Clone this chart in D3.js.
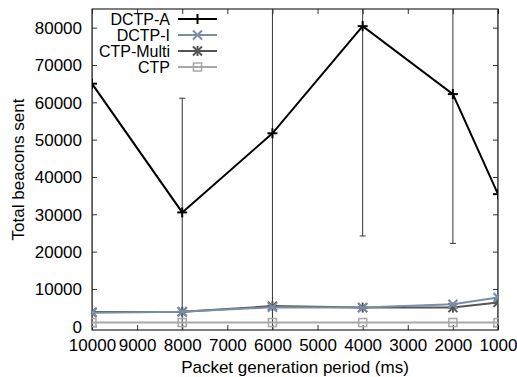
<!DOCTYPE html>
<html>
<head>
<meta charset="utf-8">
<script src="https://cdn.jsdelivr.net/npm/d3@7"></script>
<style>
  html, body { margin: 0; padding: 0; background: #fff; }
  svg text { font-family: "Liberation Sans", Arial, Helvetica, sans-serif; fill: #000; }
</style>
</head>
<body>
<svg id="chart" width="517" height="377"></svg>
<script>
// ---- data ----
const periods = [10000, 8000, 6000, 4000, 2000, 1000];
const dctpA = [65000, 30500, 51700, 80400, 62200, 35400];
const dctpALow = [-20000, -2000, -10000, 24200, 22200, -10000];
const dctpAHigh = [150000, 61100, 110000, 136600, 102200, 100000];
const dctpI = [3600, 3900, 5100, 5000, 5900, 7700];
const ctpMulti = [3800, 3900, 5400, 5000, 5000, 6400];
const ctp = [1000, 1000, 1000, 1000, 1000, 1000];
const xTicks = [10000, 9000, 8000, 7000, 6000, 5000, 4000, 3000, 2000, 1000];
const yTicks = [0, 10000, 20000, 30000, 40000, 50000, 60000, 70000, 80000];
const seriesNames = ["DCTP-A", "DCTP-I", "CTP-Multi", "CTP"];

// ---- layout ----
const svg = d3.select("#chart");
const L = 92, R = 498, T = 9, B = 330;
const x = d3.scaleLinear().domain([10000, 1000]).range([L, R]);
const y = d3.scaleLinear().domain([-1000, 85000]).range([B, T]);

svg.append("defs").append("clipPath").attr("id", "clip")
  .append("rect").attr("x", L).attr("y", T).attr("width", R - L).attr("height", B - T);

const styles = [
  { color: "#000000", width: 2, marker: "plus" },
  { color: "#7a8ea6", width: 2, marker: "cross" },
  { color: "#555555", width: 2, marker: "star" },
  { color: "#a8a8a8", width: 2, marker: "square" }
];
const seriesData = [dctpA, dctpI, ctpMulti, ctp];

// ---- axes (ticks inward, mirrored) ----
const tickLen = 5;
const axB = d3.axisBottom(x).tickValues(xTicks).tickSizeInner(-tickLen).tickSizeOuter(0).tickPadding(tickLen + 4).tickFormat(d3.format("d"));
const axT = d3.axisTop(x).tickValues(xTicks).tickSizeInner(-tickLen).tickSizeOuter(0).tickFormat("");
const axL = d3.axisLeft(y).tickValues(yTicks).tickSizeInner(-tickLen).tickSizeOuter(0).tickPadding(tickLen + 5).tickFormat(d3.format("d"));
const axR = d3.axisRight(y).tickValues(yTicks).tickSizeInner(-tickLen).tickSizeOuter(0).tickFormat("");

function styleAxis(g) {
  g.select(".domain").remove();
  g.selectAll(".tick line").attr("stroke", "#333").attr("stroke-width", 1);
  g.selectAll(".tick text").style("font-size", "17px").attr("fill", "#000");
}
svg.append("g").attr("transform", `translate(0,${B})`).call(axB).call(styleAxis);
svg.append("g").attr("transform", `translate(0,${T})`).call(axT).call(styleAxis);
svg.append("g").attr("transform", `translate(${L},0)`).call(axL).call(styleAxis)
  .selectAll(".tick text").attr("dy", "0.35em");
svg.append("g").attr("transform", `translate(${R},0)`).call(axR).call(styleAxis);

// frame
svg.append("rect").attr("x", L).attr("y", T).attr("width", R - L).attr("height", B - T)
  .attr("fill", "none").attr("stroke", "#000").attr("stroke-width", 1);

// axis titles
svg.append("text").attr("x", (L + R) / 2).attr("y", 367).attr("dy", "0.35em")
  .attr("text-anchor", "middle").style("font-size", "17px").text("Packet generation period (ms)");
svg.append("text").attr("transform", `translate(18,${(T + B) / 2}) rotate(-90)`)
  .attr("dy", "0.35em").attr("text-anchor", "middle").style("font-size", "17px").text("Total beacons sent");

// ---- marker drawing ----
function drawMarker(g, type, cx, cy, color) {
  const s = 5;
  if (type === "plus" || type === "star") {
    g.append("line").attr("x1", cx - s).attr("x2", cx + s).attr("y1", cy).attr("y2", cy).attr("stroke", color).attr("stroke-width", 2);
    g.append("line").attr("x1", cx).attr("x2", cx).attr("y1", cy - s).attr("y2", cy + s).attr("stroke", color).attr("stroke-width", 2);
  }
  if (type === "cross" || type === "star") {
    const d = 4.5;
    g.append("line").attr("x1", cx - d).attr("x2", cx + d).attr("y1", cy - d).attr("y2", cy + d).attr("stroke", color).attr("stroke-width", 2);
    g.append("line").attr("x1", cx - d).attr("x2", cx + d).attr("y1", cy + d).attr("y2", cy - d).attr("stroke", color).attr("stroke-width", 2);
  }
  if (type === "square") {
    g.append("rect").attr("x", cx - 4).attr("y", cy - 4).attr("width", 8).attr("height", 8)
      .attr("fill", "none").attr("stroke", color).attr("stroke-width", 1.5);
  }
}

const plot = svg.append("g").attr("clip-path", "url(#clip)");

// error bars for DCTP-A
periods.forEach((p, i) => {
  const px = x(p);
  const y1 = y(dctpALow[i]), y2 = y(dctpAHigh[i]);
  plot.append("line").attr("x1", px).attr("x2", px).attr("y1", y1).attr("y2", y2)
    .attr("stroke", "#333").attr("stroke-width", 1);
  [y1, y2].forEach(yy => {
    if (yy > T && yy < B) {
      plot.append("line").attr("x1", px - 3).attr("x2", px + 3).attr("y1", yy).attr("y2", yy)
        .attr("stroke", "#333").attr("stroke-width", 1);
    }
  });
});

// lines + markers, drawn so DCTP-A ends on top
const line = d3.line().x((d, i) => x(periods[i])).y(d => y(d));
[3, 2, 1, 0].forEach(si => {
  const st = styles[si];
  plot.append("path").datum(seriesData[si]).attr("d", line)
    .attr("fill", "none").attr("stroke", st.color).attr("stroke-width", st.width);
  seriesData[si].forEach((v, i) => drawMarker(plot, st.marker, x(periods[i]), y(v), st.color));
});

// ---- legend ----
const legend = svg.append("g");
seriesNames.forEach((name, i) => {
  const ly = 19 + i * 16;
  const st = styles[i];
  legend.append("text").attr("x", 170).attr("y", ly).attr("dy", "0.35em")
    .attr("text-anchor", "end").style("font-size", "16px").text(name);
  legend.append("line").attr("x1", 178).attr("x2", 217).attr("y1", ly).attr("y2", ly)
    .attr("stroke", st.color).attr("stroke-width", st.width);
  drawMarker(legend, st.marker, 197.5, ly, st.color);
});
</script>
</body>
</html>
